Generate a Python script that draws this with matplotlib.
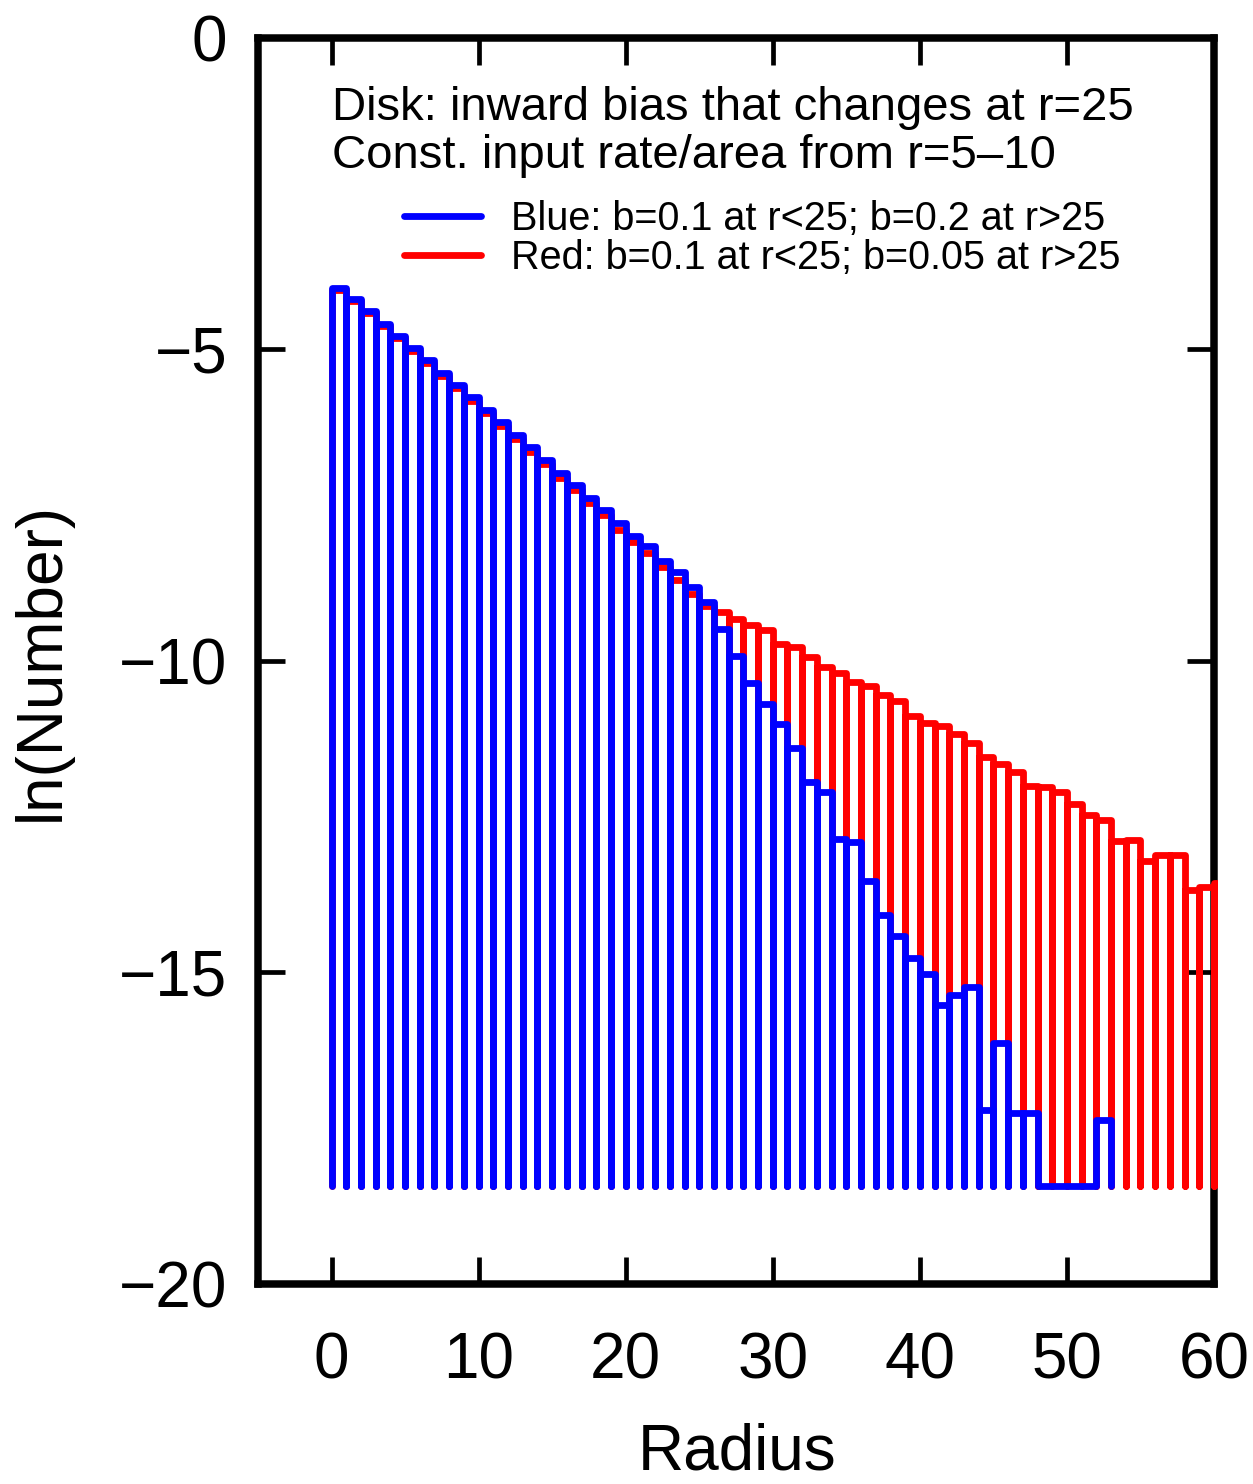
import numpy as np
import matplotlib
matplotlib.use('Agg')
from matplotlib import pyplot as plt
from matplotlib.patches import Rectangle

plt.rcParams['font.family'] = ['Liberation Sans', 'DejaVu Sans']

# ln(count) per unit radius bin, bins start at r = 0, 1, 2, ...
BASE = -18.42  # floor used for empty bins
blue_vals = [-4.02, -4.19, -4.39, -4.59, -4.78, -4.98, -5.17, -5.37, -5.57, -5.77,
             -5.97, -6.17, -6.38, -6.57, -6.77, -6.99, -7.17, -7.39, -7.57, -7.79,
             -8.00, -8.15, -8.39, -8.57, -8.82, -9.05, -9.49, -9.92, -10.36, -10.69,
             -11.01, -11.39, -11.95, -12.11, -12.86, -12.91, -13.53, -14.08, -14.41, -14.77,
             -15.02, -15.52, -15.36, -15.23, -17.21, -16.13, -17.25, -17.26, -18.42, -18.42,
             -18.42, -18.42, -17.37]
red_vals = [-4.05, -4.22, -4.42, -4.62, -4.82, -5.02, -5.21, -5.42, -5.62, -5.82,
            -6.02, -6.23, -6.44, -6.64, -6.84, -7.06, -7.25, -7.47, -7.66, -7.89,
            -8.09, -8.27, -8.49, -8.70, -8.93, -9.12, -9.21, -9.32, -9.42, -9.50,
            -9.73, -9.77, -9.94, -10.09, -10.19, -10.34, -10.40, -10.55, -10.65, -10.88,
            -11.00, -11.04, -11.18, -11.31, -11.54, -11.65, -11.78, -12.00, -12.03, -12.11,
            -12.30, -12.47, -12.55, -12.89, -12.87, -13.21, -13.12, -13.12, -13.68, -13.63,
            -13.57]
xticks = [0, 10, 20, 30, 40, 50, 60]
yticks = [0, -5, -10, -15, -20]


def box_path(vals):
    # each bin drawn as an open box standing on the floor
    xs, ys = [], []
    for i, v in enumerate(vals):
        xs += [i, i, i + 1, i + 1]
        ys += [BASE, v, v, BASE]
    return np.array(xs), np.array(ys)


fig = plt.figure(figsize=(12.53, 14.84), dpi=100)
ax = fig.add_axes([0.2059, 0.1348, 0.7630, 0.8396])

clip = Rectangle((-5, -20), 65.3, 20, transform=ax.transData)

rx, ry = box_path(red_vals)
bx, by = box_path(blue_vals)
lr, = ax.plot(rx, ry, color='#ff0000', lw=4.9, solid_joinstyle='round',
              solid_capstyle='round', zorder=3,
              label='Red: b=0.1 at r<25; b=0.05 at r>25')
lb, = ax.plot(bx, by, color='#0000ff', lw=4.9, solid_joinstyle='round',
              solid_capstyle='round', zorder=3.1,
              label='Blue: b=0.1 at r<25; b=0.2 at r>25')
lr.set_clip_path(clip)
lb.set_clip_path(clip)

ax.set_xlim(-5, 60)
ax.set_ylim(-20, 0)
ax.set_xticks(xticks)
ax.set_yticks(yticks)
ax.tick_params(direction='in', length=19.5, width=3.4, labelsize=46,
               top=True, right=True)
ax.tick_params(axis='x', pad=34)
ax.tick_params(axis='y', pad=22)
for s in ax.spines.values():
    s.set_linewidth(5.4)

ax.set_xlabel('Radius', fontsize=46)
ax.set_ylabel('ln(Number)', fontsize=46)
ax.xaxis.set_label_coords(0.501, -0.111)
ax.yaxis.set_label_coords(-0.195, 0.5)

ax.text(0.05, -1.32, 'Disk: inward bias that changes at r=25', fontsize=34,
        va='baseline')
ax.text(0.05, -2.09, 'Const. input rate/area from r=5\u201310', fontsize=34,
        va='baseline')

leg = ax.legend(handles=[lb, lr], loc='upper left',
                bbox_to_anchor=(404 / 1253, 1 - 200 / 1484),
                bbox_transform=fig.transFigure, frameon=False, fontsize=28.5,
                handlelength=1.95, handletextpad=0.75, labelspacing=0.03,
                borderpad=0, borderaxespad=0)

fig.savefig('out.png', dpi=100)
